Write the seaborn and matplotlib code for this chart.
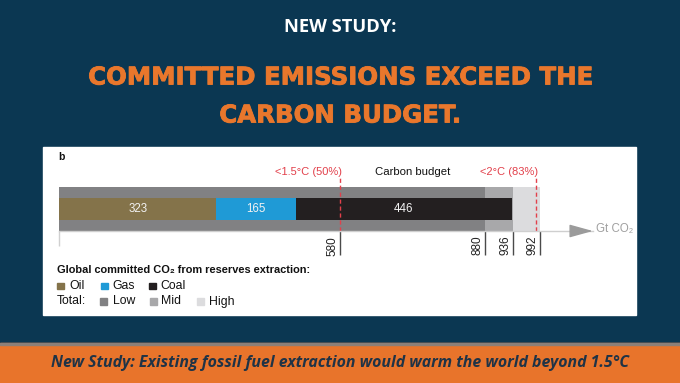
import pandas as pd
import seaborn as sns
import matplotlib.pyplot as plt
import matplotlib.patheffects as pe
from matplotlib.patches import Rectangle
from matplotlib.transforms import ScaledTranslation

# committed CO2 (Gt) by fuel, stacked
fuels = ["Oil", "Gas", "Coal"]
fuel_values = [323, 165, 446]
fuel_colors = ["#84734a", "#1f9ad6", "#231f20"]

# total committed emissions scenarios
total_labels = ["Low", "Mid", "High"]
total_values = [880, 936, 992]
total_colors = ["#818183", "#a8a8aa", "#dcdcde"]

# carbon budgets
budget_labels = ["<1.5°C (50%)", "<2°C (83%)"]
budget_values = [580, 984]

axis_ticks = [580, 880, 936, 992]

NAVY = "#0b3752"
ORANGE = "#e9772c"
RED = "#e2404b"

W, H = 680, 383


def fx(x):
    return x / W


def fy(y):
    return 1 - y / H


def main():
    sns.set_theme(style="white")
    plt.rcParams["font.family"] = ["Liberation Sans", "DejaVu Sans"]

    fig = plt.figure(figsize=(W / 100, H / 100), dpi=100, facecolor=NAVY)

    # white panel and orange footer band
    fig.patches.append(Rectangle((fx(43), fy(315)), (636 - 43) / W, (315 - 147) / H,
                                 transform=fig.transFigure, color="white", zorder=-5))
    fig.patches.append(Rectangle((0, 0), 1, (H - 343) / H,
                                 transform=fig.transFigure, color="#e8742b", zorder=-5))
    fig.patches.append(Rectangle((0, fy(344.5)), 1, 1.2 / H,
                                 transform=fig.transFigure, color="#8c7f78", zorder=-4))

    # headline texts
    fig.text(0.5, fy(27.5), "NEW STUDY:", color="white", fontsize=13.2, fontweight="bold",
             family=["Open Sans", "DejaVu Sans"], ha="center", va="center")
    heavy = [pe.withStroke(linewidth=0.6, foreground=ORANGE)]
    fig.text(0.5, fy(77.5), "COMMITTED EMISSIONS EXCEED THE", color=ORANGE, fontsize=17.6,
             fontweight="bold", family=["DejaVu Sans"], ha="center", va="center",
             path_effects=heavy)
    fig.text(0.5, fy(115.5), "CARBON BUDGET.", color=ORANGE, fontsize=17.6,
             fontweight="bold", family=["DejaVu Sans"], ha="center", va="center",
             path_effects=heavy)
    fig.text(0.5, fy(363), "New Study: Existing fossil fuel extraction would warm the world beyond 1.5°C",
             color="#1f3346", fontsize=11.4, fontweight="bold", style="italic",
             family=["Open Sans", "DejaVu Sans"], ha="center", va="center")

    # bar axes: 0 at x=59.5px, 0.484 px per Gt
    scale = 0.484
    xmax = 1102
    ax = fig.add_axes([fx(59.5), fy(231), xmax * scale / W, 44.3 / H])
    ax.set_facecolor("none")

    layers = pd.DataFrame({
        "value": total_values[::-1] + list(pd.Series(fuel_values).cumsum())[::-1],
        "color": total_colors[::-1] + fuel_colors[::-1],
        "width": [1.0] * 3 + [0.497] * 3,
    })
    for _, row in layers.iterrows():
        sns.barplot(x=[row["value"]], y=["b"], orient="h", color=row["color"],
                    width=row["width"], saturation=1, linewidth=0, ax=ax)

    ax.set_xlim(0, xmax)
    ax.set_ylim(0.5, -0.5)
    ax.set_ylabel("")
    ax.set_yticks([])
    for side in ["top", "right", "left"]:
        ax.spines[side].set_visible(False)
    ax.spines["bottom"].set_color("#cfcfcf")
    ax.spines["bottom"].set_linewidth(1.0)

    # value labels inside the fuel segments
    starts = [0] + list(pd.Series(fuel_values).cumsum())[:-1]
    for s, v in zip(starts, fuel_values):
        ax.text(s + v / 2, 0, str(v), color="#f2f2f2", fontsize=8.3, ha="center", va="center")

    # axis ticks and rotated labels
    ax.set_xticks(axis_ticks)
    ax.set_xticklabels([str(t) for t in axis_ticks], rotation=90, fontsize=8.5,
                       ha="right", va="top", color="#222222")
    ax.tick_params(axis="x", length=0, pad=3.5)
    off = ScaledTranslation(-1.5 / 100, 0, fig.dpi_scale_trans)
    for lab in ax.get_xticklabels():
        lab.set_transform(lab.get_transform() + off)
    xt = ax.get_xaxis_transform()
    ax.vlines(axis_ticks, -24 / 44.3, 0, transform=xt, color="#4a4a4a", lw=1.0, clip_on=False)
    ax.vlines([0], -15 / 44.3, 0, transform=xt, color="#d0d0d0", lw=1.0, clip_on=False)

    # arrow head and unit
    ax.annotate("", xy=(xmax, 0.5), xytext=(xmax - 45, 0.5), annotation_clip=False,
                arrowprops=dict(arrowstyle="-|>,head_length=1.45,head_width=0.4",
                                color="#9b9b9b", lw=1, shrinkA=0, shrinkB=0, mutation_scale=10))
    fig.text(fx(596), fy(229), "Gt CO₂", color="#a0a0a0", fontsize=8.3, ha="left", va="center")

    # carbon budget lines
    ax.vlines(budget_values, 0, 1.196, transform=xt, color=RED, lw=1.0,
              linestyles=(0, (3, 2)), clip_on=False)
    for lab, v in zip(budget_labels, budget_values):
        ax.text(v + 4, 1.332, lab, transform=xt, color=RED, fontsize=8, ha="right", va="center")
    fig.text(fx(413), fy(172), "Carbon budget", color="#111111", fontsize=8.2,
             ha="center", va="center")
    fig.text(fx(58), fy(157.5), "b", color="#111111", fontsize=7.5, fontweight="bold",
             ha="left", va="center")

    # legend
    fig.text(fx(57), fy(270), "Global committed CO₂ from reserves extraction:", color="#111111",
             fontsize=7.95, fontweight="bold", ha="left", va="center")
    sq = 6.5
    for name, col, sx, tx in zip(fuels, fuel_colors, [57, 101, 149], [69.5, 112, 160.5]):
        fig.patches.append(Rectangle((fx(sx), fy(286 + sq / 2)), sq / W, sq / H,
                                     transform=fig.transFigure, color=col, zorder=2))
        fig.text(fx(tx), fy(286), name, color="#111111", fontsize=8.8, ha="left", va="center")
    fig.text(fx(57), fy(301.5), "Total:", color="#111111", fontsize=8.8, ha="left", va="center")
    for name, col, sx, tx in zip(total_labels, total_colors, [100, 150, 197], [112.5, 160.5, 208.5]):
        fig.patches.append(Rectangle((fx(sx), fy(301.5 + sq / 2)), sq / W, sq / H,
                                     transform=fig.transFigure, color=col, zorder=2))
        fig.text(fx(tx), fy(301.5), name, color="#111111", fontsize=8.8, ha="left", va="center")

    fig.savefig("out.png", dpi=100, facecolor=fig.get_facecolor())


if __name__ == '__main__':
    main()
